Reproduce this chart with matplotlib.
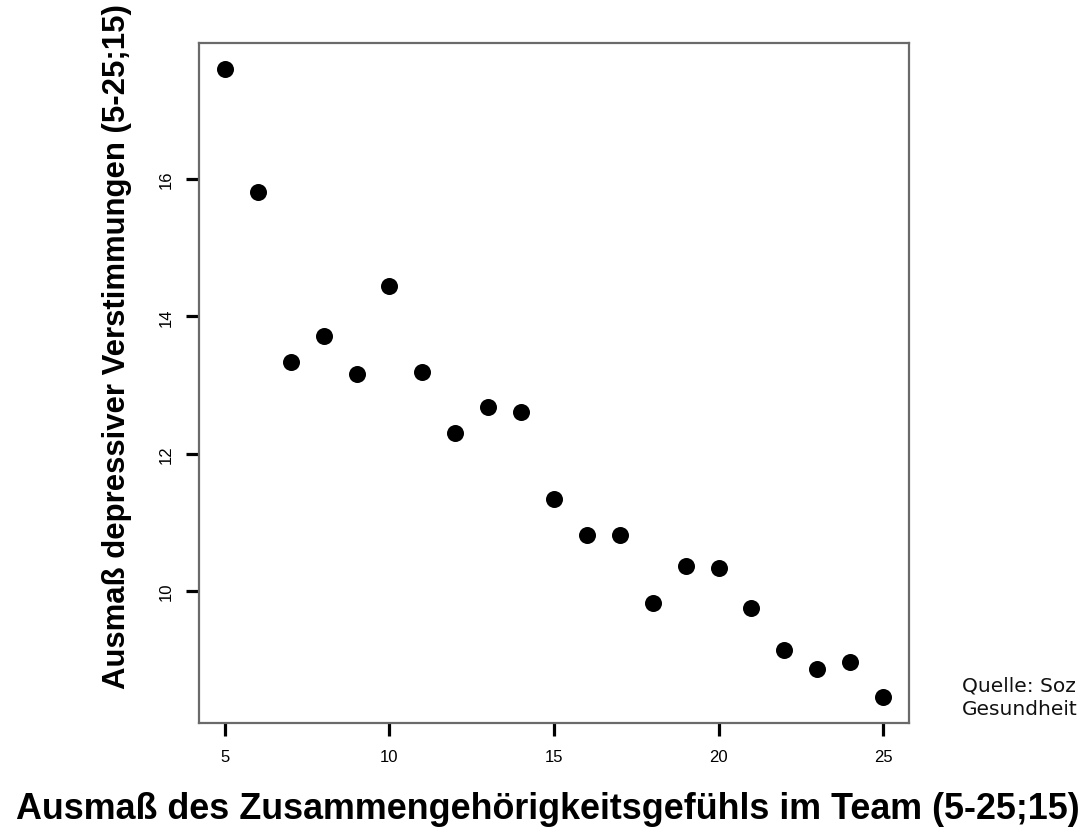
import matplotlib
matplotlib.use("Agg")
import matplotlib.pyplot as plt

x_vals = [5, 6, 7, 8, 9, 10, 11, 12, 13, 14, 15, 16, 17, 18, 19, 20, 21, 22, 23, 24, 25]
y_vals = [17.60, 15.81, 13.33, 13.71, 13.16, 14.44, 13.19, 12.30, 12.68, 12.61,
          11.34, 10.82, 10.82, 9.83, 10.36, 10.33, 9.76, 9.14, 8.86, 8.97, 8.46]
x_ticks = [5, 10, 15, 20, 25]
y_ticks = [10, 12, 14, 16]
x_label = "Ausmaß des Zusammengehörigkeitsgefühls im Team (5-25;15)"
y_label = "Ausmaß depressiver Verstimmungen (5-25;15)"
source_lines = ["Quelle: Soz", "Gesundheit"]

W, H = 1083, 837
fig = plt.figure(figsize=(W / 100, H / 100), dpi=100)
ax = fig.add_axes([199 / W, 1 - 724 / H, 710 / W, 680 / H])
ax.scatter(x_vals, y_vals, s=150, color="black", zorder=3, linewidths=0)
ax.set_xlim(4.21, 25.79)
ax.set_ylim(8.08, 17.98)
ax.set_xticks(x_ticks)
ax.set_yticks(y_ticks)
ax.set_xticklabels([str(t) for t in x_ticks], fontsize=12, family="Liberation Sans")
ax.set_yticklabels([str(t) for t in y_ticks], fontsize=12, family="Liberation Sans",
                   rotation=90, va="center")
ax.tick_params(direction="out", length=9.5, width=2.3, color="black", pad=9)
for sp in ax.spines.values():
    sp.set_color("#6a6a6a")
    sp.set_linewidth(1.6)

fig.canvas.draw()
renderer = fig.canvas.get_renderer()

xl = fig.text(548 / W, 1 - 810 / H, x_label, ha="center", va="center",
              fontsize=22, fontweight="bold", family="Liberation Sans")
bb = xl.get_window_extent(renderer)
xl.set_fontsize(22 * 1063 / bb.width)

yl = fig.text(117 / W, 1 - 347 / H, y_label, ha="center", va="center", rotation=90,
              fontsize=22, fontweight="bold", family="Liberation Sans")
bb = yl.get_window_extent(renderer)
yl.set_fontsize(22 * 685 / bb.height)

fig.text(962 / W, 1 - 692 / H, source_lines[0], ha="left", va="baseline",
         fontsize=14.5, family="DejaVu Sans", color="#111111")
fig.text(962 / W, 1 - 715 / H, source_lines[1], ha="left", va="baseline",
         fontsize=14.5, family="DejaVu Sans", color="#111111")

fig.savefig("out.png", dpi=100)
